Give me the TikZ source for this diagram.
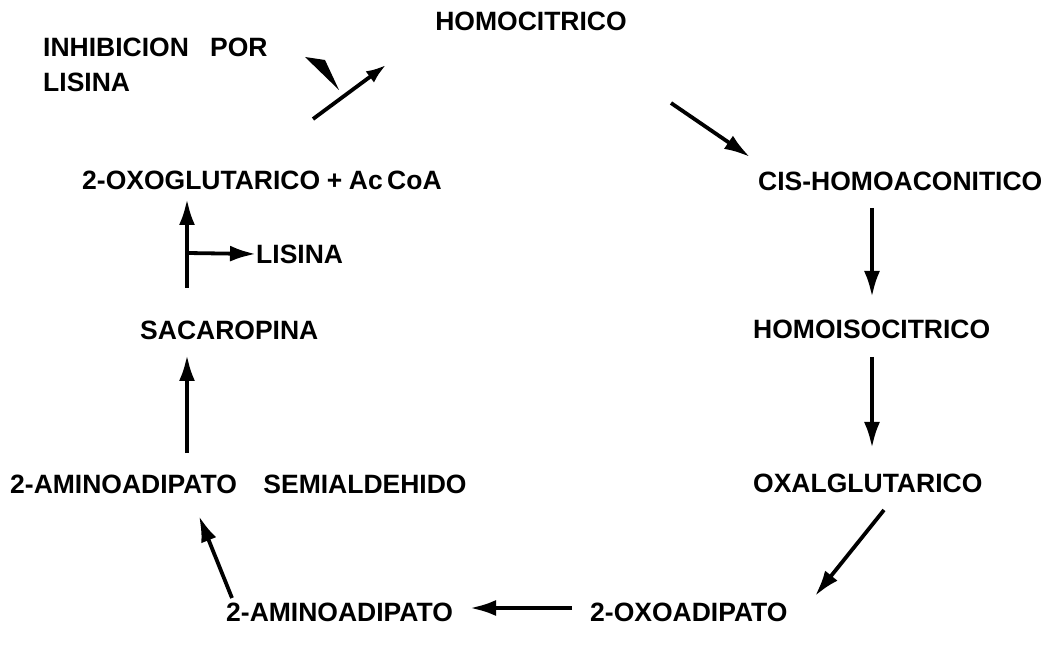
\documentclass[tikz,border=0pt]{standalone}
\usepackage{fontspec}
\setmainfont{Liberation Sans}
\usetikzlibrary{arrows.meta}
\begin{document}
\begin{tikzpicture}[x=1pt,y=-1pt,
  lbl/.style={font=\fontsize{26.5}{32}\selectfont\bfseries, inner sep=0pt},
  arr/.style={line width=3.8pt, -{Latex[length=26pt,width=16pt]}},
  sarr/.style={line width=3.8pt, -{Latex[length=20pt,width=14pt]}}]
\useasboundingbox (0,0) rectangle (1053,652);
% labels
\node[lbl] (homocit) at (531,21) {HOMOCITRICO};
\node[lbl, anchor=west] (inh1) at (43,47) {INHIBICION\hspace{0.8em}POR};
\node[lbl, anchor=west] (inh2) at (43,82) {LISINA};
\node[lbl, anchor=west] (oxoglu) at (82,180) {2-OXOGLUTARICO\hspace{0.25em}+\hspace{0.25em}Ac\,CoA};
\node[lbl, anchor=west] (cis) at (758,181) {CIS-HOMOACONITICO};
\node[lbl, anchor=west] (hiso) at (753,329) {HOMOISOCITRICO};
\node[lbl, anchor=west] (oxal) at (753,483) {OXALGLUTARICO};
\node[lbl, anchor=west] (oxoad) at (590,612) {2-OXOADIPATO};
\node[lbl, anchor=west] (amino) at (226,612) {2-AMINOADIPATO};
\node[lbl, anchor=west] (semi) at (10,484) {2-AMINOADIPATO\hspace{1.0em}SEMIALDEHIDO};
\node[lbl, anchor=west] (sacar) at (140,330) {SACAROPINA};
\node[lbl, anchor=west] (lis) at (256,254) {LISINA};
% coordinates for connector ends
\coordinate (a1s) at (313,119);
\coordinate (a1e) at (386,65);
\coordinate (a2s) at (671,103);
\coordinate (a2e) at (750,157);
\coordinate (a3s) at (872,208);
\coordinate (a3e) at (872,297);
\coordinate (a4s) at (872,357);
\coordinate (a4e) at (872,448);
\coordinate (a5s) at (884,510);
\coordinate (a5e) at (815,596);
\coordinate (a6s) at (572,608);
\coordinate (a6e) at (470,608);
\coordinate (a7s) at (232,598);
\coordinate (a7e) at (199,516);
\coordinate (a8s) at (187,453);
\coordinate (a8e) at (187,355);
\coordinate (a9s) at (187,288);
\coordinate (a9e) at (187,199);
\coordinate (br) at (187,253);
% arrows
\draw[sarr] (a1s) -- (a1e);
\fill (305,57) -- (325,60) -- (339,90) -- cycle;
\draw[arr] (a2s) -- (a2e);
\draw[arr] (a3s) -- (a3e);
\draw[arr] (a4s) -- (a4e);
\draw[arr] (a5s) -- (a5e);
\draw[arr] (a6s) -- (a6e);
\draw[arr] (a7s) -- (a7e);
\draw[arr] (a8s) -- (a8e);
\draw[arr] (a9s) -- (a9e);
\draw[arr] (br) -- (lis.west);
\end{tikzpicture}
\end{document}
